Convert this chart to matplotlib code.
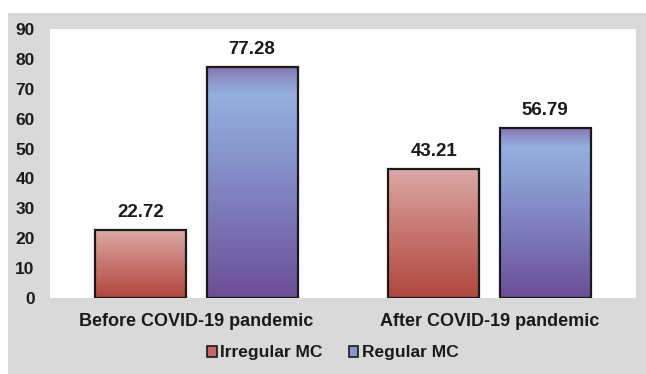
import matplotlib
matplotlib.use("Agg")
import matplotlib.pyplot as plt
import numpy as np
from matplotlib.patches import Rectangle
from matplotlib.colors import LinearSegmentedColormap

categories = ["Before COVID-19 pandemic", "After COVID-19 pandemic"]
series_names = ["Irregular MC", "Regular MC"]
irregular = [22.72, 43.21]
regular = [77.28, 56.79]
yticks = [0, 10, 20, 30, 40, 50, 60, 70, 80, 90]

plt.rcParams['font.family'] = ['Liberation Sans', 'DejaVu Sans']

W, H = 646, 374
fig = plt.figure(figsize=(W / 100, H / 100), dpi=100)
fig.patch.set_facecolor("white")
bg = Rectangle((8 / W, 0), 1 - 8 / W, 1 - 13 / H, transform=fig.transFigure,
               facecolor="#d9d9d9", edgecolor="none", zorder=-10)
fig.patches.append(bg)

ax = fig.add_axes([50 / W, (H - 298) / H, 586 / W, (298 - 29) / H])
ax.set_zorder(1)
ax.set_facecolor("white")
ax.set_xlim(-0.5, 1.5)
ax.set_ylim(0, 90)
for s in ax.spines.values():
    s.set_visible(False)

red_cmap = LinearSegmentedColormap.from_list("red", [(0, "#b0473d"), (0.55, "#c97a74"), (1, "#dcaaa8")])
blue_cmap = LinearSegmentedColormap.from_list(
    "blue", [(0, "#6d4e96"), (0.5, "#8288c4"), (0.88, "#93b0de"), (0.94, "#8e98cd"), (1, "#8a76b2")])

width = 0.31
offset = 0.19
x = np.arange(len(categories))

def grad_bar(xc, h, cmap):
    rect = Rectangle((xc - width / 2, 0), width, h, facecolor="none", edgecolor="#1a1a1a",
                     linewidth=1.6, zorder=3)
    ax.add_patch(rect)
    grad = np.linspace(0, 1, 256).reshape(-1, 1)
    im = ax.imshow(grad, cmap=cmap, origin="lower", aspect="auto",
                   extent=(xc - width / 2, xc + width / 2, 0, h), zorder=2, interpolation="bilinear")
    im.set_clip_path(rect)
    ax.text(xc, h + 5.8, f"{h:.2f}", ha="center", va="center", fontsize=13.5, fontweight="bold",
            color="#1a1a1a")

for i in range(len(categories)):
    grad_bar(x[i] - offset, irregular[i], red_cmap)
    grad_bar(x[i] + offset, regular[i], blue_cmap)

ax.set_xlim(-0.5, 1.5)
ax.set_ylim(0, 90)
ax.set_yticks(yticks)
ax.set_yticklabels([str(t) for t in yticks], fontsize=12.5, fontweight="bold", color="#1a1a1a")
ax.set_xticks(x)
ax.set_xticklabels(categories, fontsize=13, fontweight="bold", color="#1a1a1a")
ax.tick_params(axis="both", length=0)
ax.tick_params(axis="y", pad=11)
ax.tick_params(axis="x", pad=11)

handles = [Rectangle((0, 0), 1, 1, facecolor="#c46a62", edgecolor="#1a1a1a", linewidth=1.2),
           Rectangle((0, 0), 1, 1, facecolor="#8a93cc", edgecolor="#1a1a1a", linewidth=1.2)]
leg = fig.legend(handles, series_names, loc="center", bbox_to_anchor=(333 / W, 1 - 353 / H),
                 ncol=2, frameon=False, handlelength=0.55, handleheight=0.55, handletextpad=0.2,
                 columnspacing=1.5, prop={"family": "Liberation Sans", "weight": "bold", "size": 12.5})
for t in leg.get_texts():
    t.set_color("#1a1a1a")

fig.savefig("out.png", dpi=100, facecolor="white")
